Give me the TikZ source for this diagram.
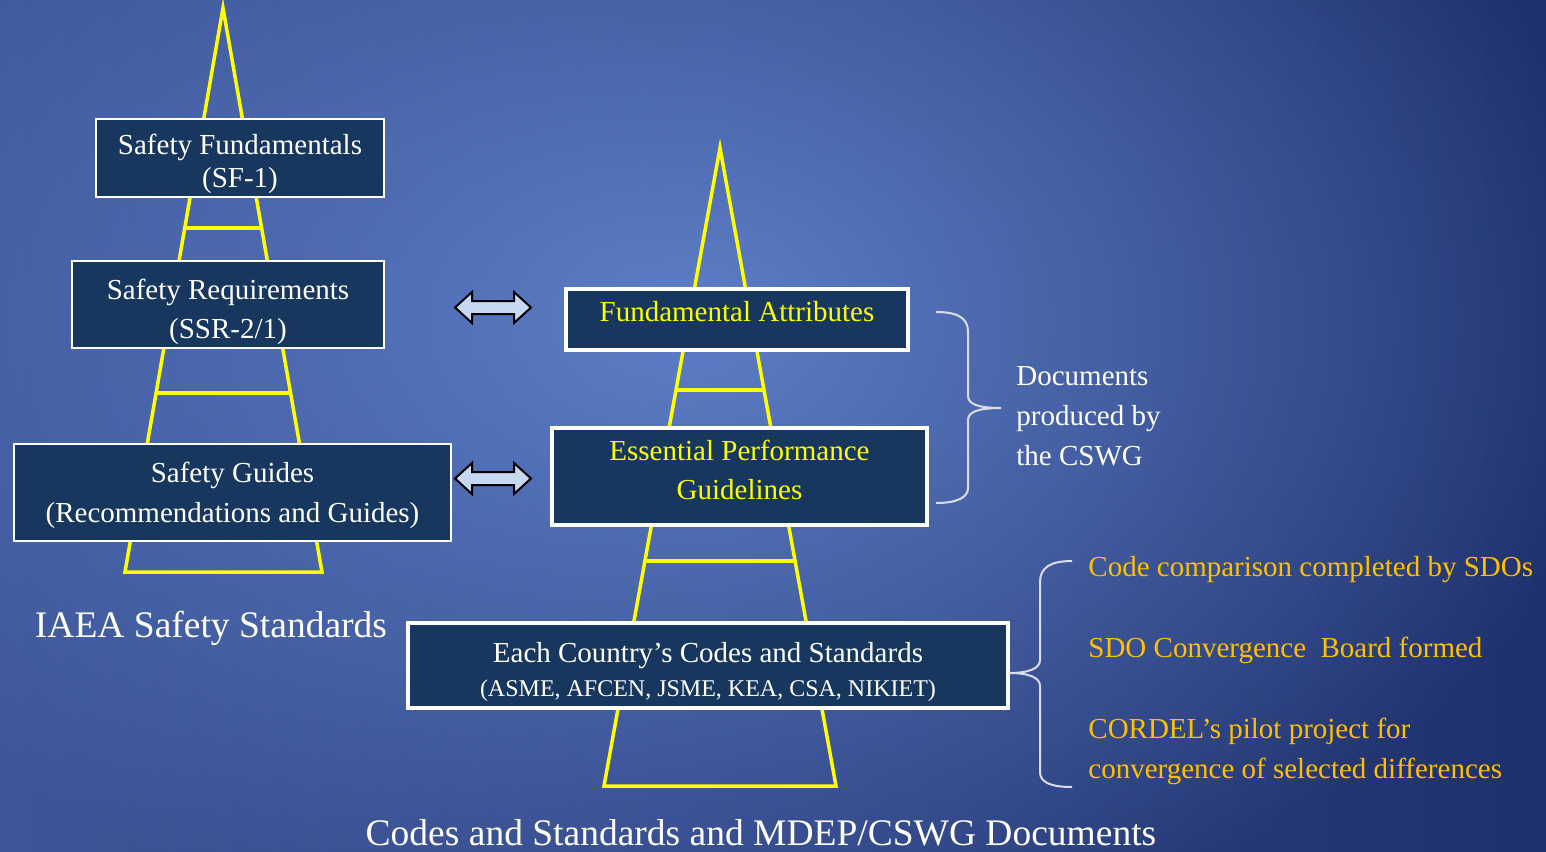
\documentclass[tikz,border=0pt]{standalone}
\usepackage{fontspec}
\setmainfont{Liberation Serif}
\usetikzlibrary{calc,fadings}

\definecolor{boxblue}{HTML}{17375E}
\definecolor{towerline}{HTML}{FFFF00}
\definecolor{noteorange}{HTML}{FFC000}
\definecolor{arrowfill}{HTML}{C6D9F1}
\definecolor{braceline}{HTML}{D9DEEA}
\definecolor{bgleft}{HTML}{3E5699}
\definecolor{bgmid}{HTML}{4F6EB7}
\definecolor{bgright}{HTML}{1F316D}
\definecolor{bgglow}{HTML}{5D7EC7}
\tikzfading[name=glowfade, inner color=transparent!0, outer color=transparent!100]

\tikzset{
  iaeabox/.style={draw=white, line width=1pt, fill=boxblue, text=white, align=center,
    inner sep=0pt, font=\fontsize{14.5}{20}\selectfont},
  cswgbox/.style={iaeabox, line width=2pt, text=towerline},
  tower/.style={draw=towerline, line width=1.75pt},
  bracket/.style={draw=braceline, line width=1pt},
  note/.style={text=white, align=left, inner sep=0pt, font=\fontsize{14.5}{20}\selectfont},
  progress/.style={note, text=noteorange},
  title/.style={text=white, inner sep=0pt, font=\fontsize{18.75}{22}\selectfont},
  dblarrow/.pic={
    \draw[fill=arrowfill, line width=1pt, line join=miter]
      (-38,0) -- (-21,-15.5) -- (-21,-6.5) -- (21,-6.5) -- (21,-15.5) -- (38,0)
      -- (21,15.5) -- (21,6.5) -- (-21,6.5) -- (-21,15.5) -- cycle;
  }
}

\begin{document}
\begin{tikzpicture}[x=0.5pt,y=-0.5pt]
  % Background
  \useasboundingbox (0,0) rectangle (1546,851);
  \shade[left color=bgleft, middle color=bgmid, right color=bgright] (0,0) rectangle (1546,851);
  \fill[bgglow, path fading=glowfade] (680,320) ellipse (950 and 650);

  % IAEA tower
  \coordinate (iaea top) at (223,8);
  \coordinate (iaea left) at (125,572);
  \coordinate (iaea right) at (322,572);
  \draw[tower] (iaea top) -- (iaea left) -- (iaea right) -- cycle;
  \draw[tower] ($(iaea top)!0.39!(iaea left)$) -- ($(iaea top)!0.39!(iaea right)$);
  \draw[tower] ($(iaea top)!0.683!(iaea left)$) -- ($(iaea top)!0.683!(iaea right)$);

  % CSWG tower
  \coordinate (cswg top) at (720,148);
  \coordinate (cswg left) at (604,786);
  \coordinate (cswg right) at (836,786);
  \draw[tower] (cswg top) -- (cswg left) -- (cswg right) -- cycle;
  \draw[tower] ($(cswg top)!0.379!(cswg left)$) -- ($(cswg top)!0.379!(cswg right)$);
  \draw[tower] ($(cswg top)!0.647!(cswg left)$) -- ($(cswg top)!0.647!(cswg right)$);

  % IAEA documents
  \node[iaeabox, minimum width=144pt, text height=34pt, text depth=5pt, font=\fontsize{14.5}{16.5}\selectfont]
    (sf) at (240,158) {Safety Fundamentals\\(SF-1)};
  \node[iaeabox, minimum width=156pt, text height=38.5pt, text depth=5pt, font=\fontsize{14.5}{19.5}\selectfont]
    (sr) at (228,304.5) {Safety Requirements\\(SSR-2/1)};
  \node[iaeabox, minimum width=218.5pt, text height=39.25pt, text depth=9.25pt]
    (sg) at (232.5,492.5) {Safety Guides\\(Recommendations and Guides)};
  \node[title, anchor=base] (iaea) at (211,637) {IAEA Safety Standards};

  % CSWG documents
  \node[cswgbox, minimum width=171pt, text height=16pt, text depth=14.5pt]
    (fa) at (737,319.5) {Fundamental Attributes};
  \node[cswgbox, minimum width=187.5pt, text height=35.5pt, text depth=13pt, font=\fontsize{14.5}{19.5}\selectfont]
    (epg) at (739.5,476.5) {Essential Performance\\Guidelines};
  \node[cswgbox, text=white, minimum width=300pt, text height=36.5pt, text depth=6pt] (cc) at (708,665.5)
    {Each Country’s Codes and Standards\\[-3pt]{\fontsize{12}{14}\selectfont (ASME, AFCEN, JSME, KEA, CSA, NIKIET)}};
  \node[title, anchor=base, text depth=0pt] (cswg) at (761,845) {Codes and Standards and MDEP/CSWG Documents};

  % Correspondence
  \pic at (493,307.5) {dblarrow};
  \pic at (493,478.5) {dblarrow};

  % Braces
  \draw[bracket] (936,312) .. controls (958,312) and (968,318) .. (968,332) -- (968,396)
    .. controls (968,404) and (978,408) .. (1001,408) .. controls (978,408) and (968,412) .. (968,420)
    -- (968,488) .. controls (968,497) and (958,503) .. (936,503);
  \node[note, anchor=base west] (docs) at (1016,465) {Documents\\produced by\\the CSWG};

  \draw[bracket] (1072,561) .. controls (1050,561) and (1040,568) .. (1040,582) -- (1040,660)
    .. controls (1040,668) and (1030,673) .. (1009,673) .. controls (1030,673) and (1040,678) .. (1040,686)
    -- (1040,772) .. controls (1040,782) and (1050,787) .. (1072,787);
  \node[progress, anchor=base west] (comparison) at (1088,576) {Code comparison completed by SDOs};
  \node[progress, anchor=base west] (board) at (1088,657) {SDO Convergence\ \ Board formed};
  \node[progress, anchor=base west] (pilot) at (1088,778) {CORDEL’s pilot project for\\convergence of selected differences};
\end{tikzpicture}
\end{document}
